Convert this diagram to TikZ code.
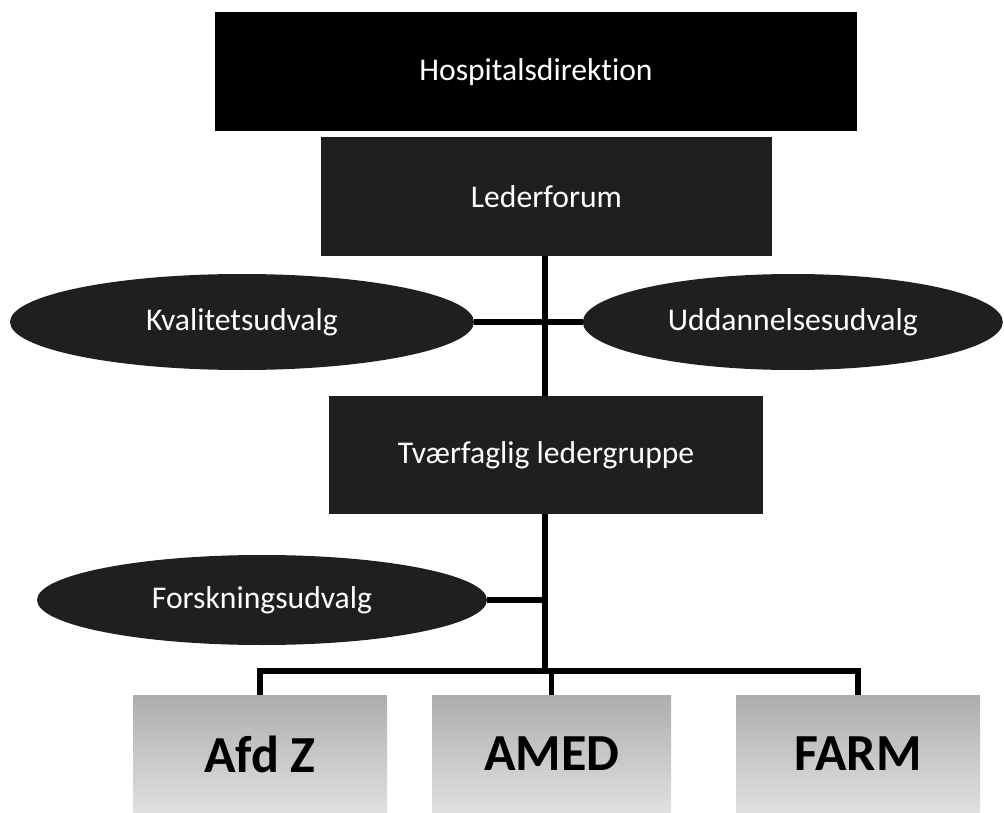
\documentclass[tikz,border=0pt]{standalone}
\usepackage{fontspec}
\setmainfont[Ligatures=NoCommon]{Carlito}
\usetikzlibrary{positioning,calc,shapes.geometric}
\tikzset{font=\fontsize{22.5}{26}\selectfont}
\tikzset{
	darkbox/.style={draw=none, fill=black!88, text=white, minimum height=2.975cm},
	darkoval/.style={ellipse, draw=none, fill=black!88, text=white, inner sep=0pt},
	unitbox/.style={draw=none, top color=black!32, bottom color=black!12, minimum width=6cm, minimum height=2.95cm, font=\fontsize{37}{40}\selectfont\bfseries},
	link/.style={line width=4pt}
}

\begin{document}
\begin{tikzpicture}
	\useasboundingbox[fill=white] (0, 0) rectangle (25.1, -20.325);
	\begin{scope}
		\tikzstyle{every node}=[align=center]
		\node[darkbox, fill=black, minimum width=16.05cm] (direktion)   at (13.4, -1.79)    {Hospitalsdirektion};
		\node[darkbox, minimum width=11.275cm]            (lederforum)  at (13.66, -4.91)   {Lederforum};
		\node[darkoval, minimum width=11.6cm, minimum height=2.4cm]  (kvalitet)   at (6.05, -8.05)  {Kvalitetsudvalg};
		\node[darkoval, minimum width=10.5cm, minimum height=2.4cm]  (uddannelse) at (19.82, -8.05) {Uddannelsesudvalg};
		\node[darkbox, minimum width=10.85cm, minimum height=2.95cm] (tvaerfaglig) at (13.65, -11.38) {Tværfaglig ledergruppe};
		\node[darkoval, minimum width=11.25cm, minimum height=2.25cm] (forskning) at (6.55, -15.0) {Forskningsudvalg};
		\node[unitbox, minimum width=6.35cm]  (afdz) at (6.5, -18.85)   {Afd Z};
		\node[unitbox, minimum width=5.975cm] (amed) at (13.79, -18.85) {AMED};
		\node[unitbox, minimum width=6.1cm]   (farm) at (21.45, -18.85) {FARM};

		\coordinate (split) at (13.625, -16.775);

		\draw[link](lederforum.south -| split) -- (tvaerfaglig.north -| split);
		\draw[link](kvalitet.east) -- (uddannelse.west);
		\draw[link](tvaerfaglig.south -| split) -- (split);
		\draw[link](forskning.east) -- (forskning.east -| split);
		\draw[link](afdz.north) |- (split) -| (farm.north);
		\draw[link](split -| amed.north) -- (amed.north);
	\end{scope}
\end{tikzpicture}
\end{document}
